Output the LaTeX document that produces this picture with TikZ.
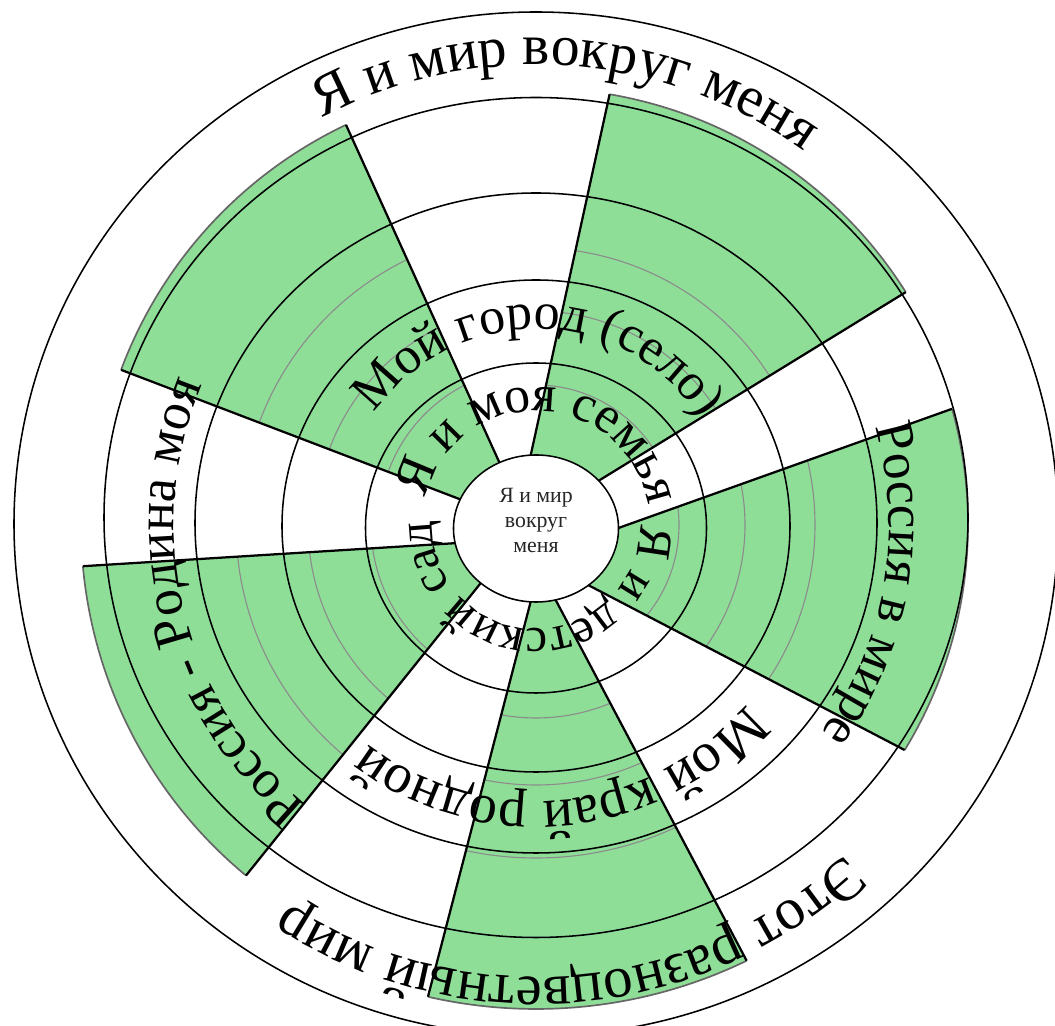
\documentclass[tikz,border=0pt]{standalone}
\usepackage{fontspec}
\setmainfont{Liberation Serif}
\usetikzlibrary{calc,decorations.text,shapes.geometric}
\definecolor{leaf}{RGB}{143,222,152}

\begin{document}
\begin{tikzpicture}[
    x=0.025cm, y=0.025cm,
    ring/.style={line width=1.1pt},
    spoke/.style={line width=1.6pt},
    seam/.style={draw=black!45, line width=0.8pt},
    rim/.style={draw=black!60, line width=1.2pt},
    hub/.style={ellipse, draw, line width=1.1pt, fill=white, inner sep=0pt,
        minimum width=4.125cm, minimum height=3.675cm},
    core/.style={align=center, text=black!85, font=\fontsize{15.5}{18}\selectfont},
    arctext/.style 2 args={
        decorate,
        decoration={text along path, text align=center,
            text={|\fontsize{#1}{#1}\selectfont|#2}}
    }
]
    \useasboundingbox (0,0) rectangle (1055,1026);
    \coordinate (c) at (536,501);

    \foreach \n/\ao/\ai/\bo/\bi/\r/\sa/\sb/\sc in {
        A/115.4/119.8/159.5/161.3/443/157/220/295,
        B/80.3/92.2/32.2/35.1/437/140/214/277,
        C/15.6/-2.8/-31.4/-48.9/432/143/209/279,
        D/-64.2/-74.9/-102.9/-94.4/484/193/260/333,
        E/185.2/193/230.4/226.4/455/165/228/300} {
        \coordinate (\n o1) at ($(c)+(\ao:\r)$);
        \coordinate (\n o2) at ($(c)+(\bo:\r)$);
        \coordinate (\n h1) at ($(c)+(\ai:80)$);
        \coordinate (\n h2) at ($(c)+(\bi:80)$);
        \coordinate (\n i1) at ($(\n o1)!1.12!(\n h1)$);
        \coordinate (\n i2) at ($(\n o2)!1.12!(\n h2)$);

        \fill[leaf] (\n i1) -- (\n o1) arc[start angle=\ao, end angle=\bo, radius=\r]
            -- (\n i2) -- (c) -- cycle;
        \begin{scope}
            \clip (\n i1) -- (\n o1) arc[start angle=\ao, end angle=\bo, radius=\r]
                -- (\n i2) -- (c) -- cycle;
            \foreach \s in {\sa,\sb,\sc}
                \draw[seam] (c) circle[radius=\s];
        \end{scope}
        \draw[rim] (\n o1) arc[start angle=\ao, end angle=\bo, radius=\r];
        \draw[spoke] (\n o1) -- (\n i1);
        \draw[spoke] (\n o2) -- (\n i2);
    }

    \foreach \dy/\rx/\ry in {-3/170.5/165, -1/254/246, 2/341/330, 7.5/432/420, 1/522/512}
        \draw[ring] ($(c)+(0,\dy)$) ellipse[x radius=\rx, y radius=\ry];

    \node[hub] (hub) at ($(c)+(0,-3.5)$) {};
    \node[core] (core) at ($(hub.center)+(0,8)$) {Я и мир\\вокруг\\меня};

    \path[arctext={41}{Я и мир вокруг меня}]
        ($(c)+(136:460)$) arc[start angle=136, end angle=36, radius=460];
    \path[arctext={42}{Этот разноцветный мир}]
        ($(c)+(-25:452)$) arc[start angle=-25, end angle=-145, radius=452];
    \path[arctext={37}{Мой город (село)}]
        ($(c)+(164:196)$) arc[start angle=164, end angle=14, radius=196];
    \path[arctext={37}{Я и моя семья}]
        ($(c)+(183:114)$) arc[start angle=183, end angle=-7, radius=114];
    \path[arctext={35}{Я и детский сад}]
        ($(c)+(9:104)$) arc[start angle=9, end angle=-191, radius=104];
    \path[arctext={40}{Мой край родной}]
        ($(c)+(-24:276)$) arc[start angle=-24, end angle=-144, radius=276];
    \path[arctext={38}{Россия в мире}]
        ($(c)+(35:353)$) arc[start angle=35, end angle=-55, radius=353];
    \path[arctext={38}{Россия - Родина моя}]
        ($(c)+(249:362)$) arc[start angle=249, end angle=139, radius=362];
\end{tikzpicture}
\end{document}
